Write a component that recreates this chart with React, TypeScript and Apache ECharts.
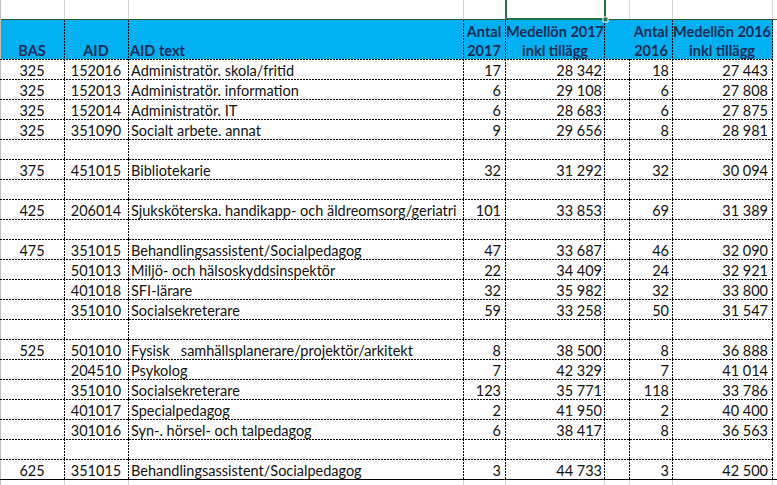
import React, { useEffect, useRef } from "react";
import * as echarts from "echarts";

const BAS = ["325","325","325","325","","375","","425","","475","","","","","525","","","","","","625"];
const AID = ["152016","152013","152014","351090","","451015","","206014","","351015","501013","401018","351010","","501010","204510","351010","401017","301016","","351015"];
const AID_TEXT = [
  "Administratör. skola/fritid","Administratör. information","Administratör. IT","Socialt arbete. annat","",
  "Bibliotekarie","",
  "Sjuksköterska. handikapp- och äldreomsorg/geriatri","",
  "Behandlingsassistent/Socialpedagog","Miljö- och hälsoskyddsinspektör","SFI-lärare","Socialsekreterare","",
  "Fysisk   samhällsplanerare/projektör/arkitekt","Psykolog","Socialsekreterare","Specialpedagog","Syn-. hörsel- och talpedagog","",
  "Behandlingsassistent/Socialpedagog"
];
const ANTAL_2017 = [17,6,6,9,null,32,null,101,null,47,22,32,59,null,8,7,123,2,6,null,3];
const MEDEL_2017 = [28342,29108,28683,29656,null,31292,null,33853,null,33687,34409,35982,33258,null,38500,42329,35771,41950,38417,null,44733];
const ANTAL_2016 = [18,6,6,8,null,32,null,69,null,46,24,32,50,null,8,7,118,2,8,null,3];
const MEDEL_2016 = [27443,27808,27875,28981,null,30094,null,31389,null,32090,32921,33800,31547,null,36888,41014,33786,40400,36563,null,42500];
const HEADERS = ["BAS","AID","AID text","Antal\n2017","Medellön 2017\ninkl tillägg","Antal\n2016","Medellön 2016\ninkl tillägg"];

const W = 777;
const H = 485;
const FAMILY = "Lato";
const FS = 14.5;
const EDGES = [64, 128, 463, 505, 604, 629, 672, 772];
const HEADER_EDGES = [64, 128, 463, 505, 604, 672, 772];
const GRID_GRAY = "#d4d4d4";
const BLUE = "#00b0f0";
const NAVY = "#172c55";
const GREEN = "#217346";

const COLS: [number, string][] = [
  [32, "center"],
  [96, "center"],
  [131, "left"],
  [501, "right"],
  [602, "right"],
  [669, "right"],
  [768, "right"],
];
const HEADER_ANCHORS: [number, string][] = [
  [32, "center"],
  [96, "center"],
  [130, "left"],
  [484, "center"],
  [555, "center"],
  [651, "center"],
  [722, "center"],
];

function fmt(n: number | null): string {
  if (n === null || n === undefined) return "";
  return String(n).replace(/\B(?=(\d{3})+(?!\d))/g, " ");
}

export default function App() {
  const ref = useRef<HTMLDivElement>(null);
  useEffect(() => {
    if (!ref.current) return;
    const chart = echarts.init(ref.current, undefined, { renderer: "svg", width: W, height: H });

    const rows = BAS.map((_, i) => [0, i]);
    const n = rows.length;

    const graphics: any[] = [];
    [0, ...EDGES].forEach((x) => {
      graphics.push({
        type: "line",
        shape: { x1: x + 0.5, y1: 0, x2: x + 0.5, y2: 19 },
        style: { stroke: GRID_GRAY, lineWidth: 1 },
        silent: true,
      });
    });
    graphics.push({
      type: "rect",
      shape: { x: 0, y: 20, width: 773, height: 39 },
      style: { fill: BLUE },
      silent: true,
    });
    graphics.push({
      type: "line",
      shape: { x1: 0, y1: 19.5, x2: W, y2: 19.5 },
      style: { stroke: "#2e5a3c", lineWidth: 1 },
      silent: true,
    });
    graphics.push({
      type: "line",
      shape: { x1: 0.5, y1: 0, x2: 0.5, y2: H },
      style: { stroke: "#bfbfbf", lineWidth: 1 },
      silent: true,
    });
    HEADER_EDGES.forEach((x) => {
      graphics.push({
        type: "line",
        shape: { x1: x + 0.5, y1: 20, x2: x + 0.5, y2: 59 },
        style: { stroke: "#000", lineWidth: 1, lineDash: [2, 1] },
        silent: true,
      });
    });
    graphics.push({
      type: "line",
      shape: { x1: 0, y1: 59.5, x2: 773, y2: 59.5 },
      style: { stroke: "#000", lineWidth: 1, lineDash: [2, 1] },
      silent: true,
    });
    HEADERS.forEach((h, k) => {
      const lines = h.split("\n");
      const [x, align] = HEADER_ANCHORS[k];
      lines.forEach((ln, j) => {
        const y = 50.5 - (lines.length - 1 - j) * 19;
        graphics.push({
          type: "text",
          style: {
            text: ln,
            x,
            y,
            align,
            verticalAlign: "middle",
            fontFamily: FAMILY,
            fontWeight: "bold",
            fontSize: FS,
            fill: NAVY,
          },
          silent: true,
        });
      });
    });
    graphics.push({
      type: "polyline",
      shape: { points: [[506, 0], [506, 19], [605, 19], [605, 0]] },
      style: { stroke: GREEN, lineWidth: 2, fill: "none" },
      silent: true,
    });
    graphics.push({
      type: "rect",
      shape: { x: 603, y: 17, width: 5, height: 5 },
      style: { fill: GREEN, stroke: "#fff", lineWidth: 1 },
      silent: true,
    });
    EDGES.forEach((x) => {
      graphics.push({
        type: "line",
        shape: { x1: x + 0.5, y1: 480, x2: x + 0.5, y2: H },
        style: { stroke: GRID_GRAY, lineWidth: 1 },
        silent: true,
      });
    });

    const option: any = {
      animation: false,
      backgroundColor: "#fff",
      grid: { left: 0, right: 0, top: 59, bottom: 6, containLabel: false },
      xAxis: { type: "value", min: 0, max: W, show: false },
      yAxis: {
        type: "category",
        inverse: true,
        data: BAS.map((_, i) => String(i)),
        show: false,
      },
      graphic: graphics,
      series: [
        {
          type: "custom",
          clip: false,
          data: rows,
          encode: { x: 0, y: 1 },
          renderItem: (params: any, api: any) => {
            const i = api.value(1);
            const yc = api.coord([0, i])[1];
            const h = api.size([0, 1])[1];
            const top = yc - h / 2;
            const bottom = yc + h / 2;
            const X = (v: number) => api.coord([v, i])[0];
            const cells = [
              BAS[i],
              AID[i],
              AID_TEXT[i],
              ANTAL_2017[i] === null ? "" : String(ANTAL_2017[i]),
              fmt(MEDEL_2017[i]),
              ANTAL_2016[i] === null ? "" : String(ANTAL_2016[i]),
              fmt(MEDEL_2016[i]),
            ];
            const children: any[] = [];
            cells.forEach((t, k) => {
              if (!t) return;
              const [x, align] = COLS[k];
              children.push({
                type: "text",
                style: {
                  text: t,
                  x: X(x),
                  y: yc + 1,
                  align,
                  verticalAlign: "middle",
                  fontFamily: FAMILY,
                  fontSize: FS,
                  fill: "#111",
                },
              });
            });
            EDGES.forEach((e) => {
              children.push({
                type: "line",
                shape: { x1: X(e) + 0.5, y1: top, x2: X(e) + 0.5, y2: bottom },
                style: { stroke: "#000", lineWidth: 1, lineDash: [2, 1] },
              });
            });
            const last = i === n - 1;
            children.push({
              type: "line",
              shape: { x1: X(0), y1: bottom + 0.5, x2: last ? X(W) : X(773), y2: bottom + 0.5 },
              style: last
                ? { stroke: "#000", lineWidth: 1 }
                : { stroke: "#000", lineWidth: 1, lineDash: [2, 1] },
            });
            return { type: "group", children };
          },
        },
      ],
    };
    chart.setOption(option);
    return () => chart.dispose();
  }, []);
  return (
    <div
      ref={ref}
      style={{ position: "fixed", left: 0, top: 0, width: W, height: H, background: "#fff" }}
    />
  );
}
